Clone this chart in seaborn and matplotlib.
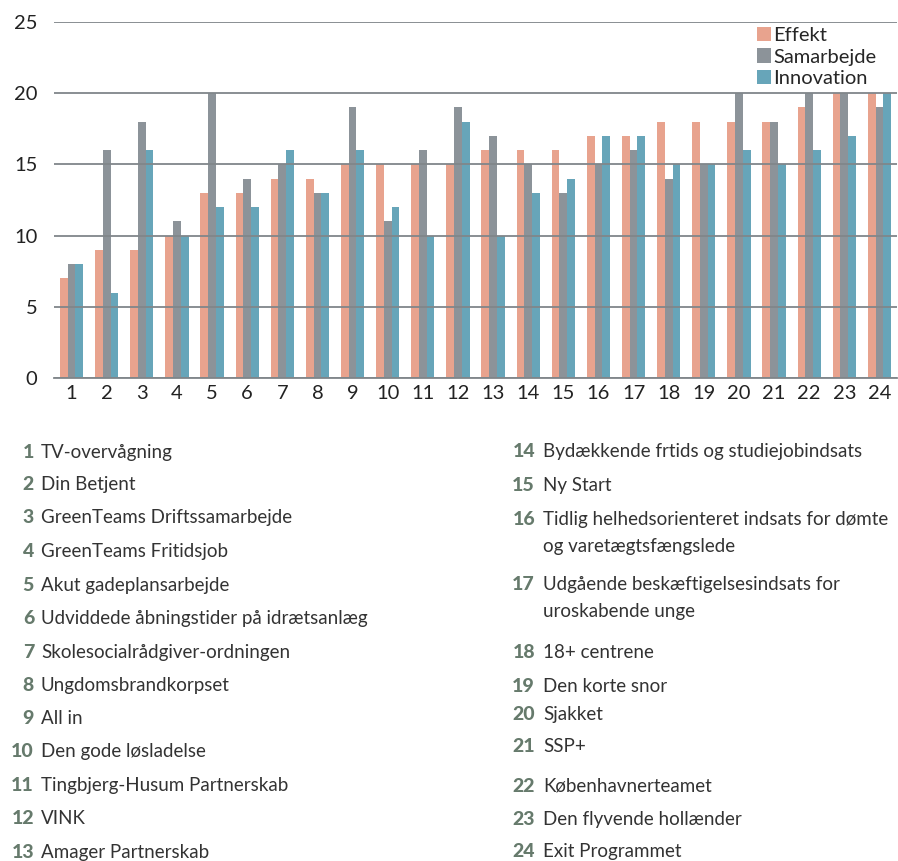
import matplotlib
matplotlib.use("Agg")
import matplotlib.pyplot as plt
import pandas as pd
import seaborn as sns
from matplotlib.patches import Patch
from matplotlib.ticker import FixedLocator

# Scores per initiative (1-24)
nr = list(range(1, 25))
effekt = [7, 9, 9, 10, 13, 13, 14, 14, 15, 15, 15, 15, 16, 16, 16, 17, 17, 18, 18, 18, 18, 19, 20, 20]
samarbejde = [8, 16, 18, 11, 20, 14, 15, 13, 19, 11, 16, 19, 17, 15, 13, 15, 16, 14, 15, 20, 18, 20, 20, 19]
innovation = [8, 6, 16, 10, 12, 12, 16, 13, 16, 12, 10, 18, 10, 13, 14, 17, 17, 15, 15, 16, 15, 16, 17, 20]
serier = ["Effekt", "Samarbejde", "Innovation"]
farver = ["#e8a38e", "#8c9399", "#67a5b9"]
y_ticks = [0, 5, 10, 15, 20, 25]

programmer = [
    "TV-overvågning",
    "Din Betjent",
    "GreenTeams Driftssamarbejde",
    "GreenTeams Fritidsjob",
    "Akut gadeplansarbejde",
    "Udviddede åbningstider på idrætsanlæg",
    "Skolesocialrådgiver-ordningen",
    "Ungdomsbrandkorpset",
    "All in",
    "Den gode løsladelse",
    "Tingbjerg-Husum Partnerskab",
    "VINK",
    "Amager Partnerskab",
    "Bydækkende frtids og studiejobindsats",
    "Ny Start",
    "Tidlig helhedsorienteret indsats for dømte\nog varetægtsfængslede",
    "Udgående beskæftigelsesindsats for\nuroskabende unge",
    "18+ centrene",
    "Den korte snor",
    "Sjakket",
    "SSP+",
    "Københavnerteamet",
    "Den flyvende hollænder",
    "Exit Programmet",
]

df = pd.DataFrame({
    "nr": [str(n) for n in nr] * 3,
    "score": effekt + samarbejde + innovation,
    "serie": [s for s in serier for _ in nr],
})

sns.set_theme(style="white")
plt.rcParams["font.family"] = ["Lato", "DejaVu Sans"]

W, H = 898, 861
fig = plt.figure(figsize=(W / 100, H / 100), dpi=100)
ax = fig.add_axes([54 / W, 1 - 378 / H, (897 - 54) / W, (378 - 22) / H])

sns.barplot(data=df, x="nr", y="score", hue="serie", hue_order=serier,
            palette=farver, saturation=1, width=0.66, ax=ax, legend=False,
            linewidth=0, errorbar=None)

ax.set_xlim(-0.5, len(nr) - 0.5)
ax.set_ylim(0, 25)
ax.set_yticks(y_ticks)
ax.set_xlabel("")
ax.set_ylabel("")

# gridlines on top of the bars
ax.set_axisbelow(False)
ax.yaxis.grid(True, color="#80868a", linewidth=1.3)
ax.xaxis.grid(False)

for side in ["top", "left", "right"]:
    ax.spines[side].set_visible(False)
ax.spines["bottom"].set_color("#80868a")
ax.spines["bottom"].set_linewidth(1.3)

ax.xaxis.set_minor_locator(FixedLocator([i - 0.5 for i in range(len(nr) + 1)]))
ax.tick_params(axis="x", which="minor", length=6, width=1.2, color="#80868a", direction="out")
ax.tick_params(axis="x", which="major", length=0, pad=5, labelsize=14.5, labelcolor="#222222")
ax.tick_params(axis="y", length=0, pad=12, labelsize=14.5, labelcolor="#222222")

handles = [Patch(facecolor=c, edgecolor="none") for c in farver]
ax.legend(handles, serier, loc="upper left", bbox_to_anchor=(0.834, 0.985),
          frameon=False, fontsize=14.5, handlelength=0.7, handleheight=0.7,
          handletextpad=0.12, labelspacing=0.2, borderaxespad=0, borderpad=0)

# numbered list of initiatives (baselines in pixels from the top, one per text line)
baselines = [[458], [490], [523], [557], [591], [624], [658], [691], [724], [757], [791], [824], [858],
             [457], [491], [525, 552], [590, 617], [658], [692], [720], [752], [792], [825], [857]]
for i, (n, navn) in enumerate(zip(nr, programmer)):
    if i < 13:
        xn, xt = 34, 41
    else:
        xn, xt = 535, 543
    fig.text(xn / W, 1 - baselines[i][0] / H, str(n), ha="right", va="baseline",
             fontsize=14, fontweight="black", color="#667a6c")
    for linje, yb in zip(navn.split("\n"), baselines[i]):
        fig.text(xt / W, 1 - yb / H, linje, ha="left", va="baseline", fontsize=13.5,
                 color="#333333")

fig.savefig("out.png", dpi=100)
